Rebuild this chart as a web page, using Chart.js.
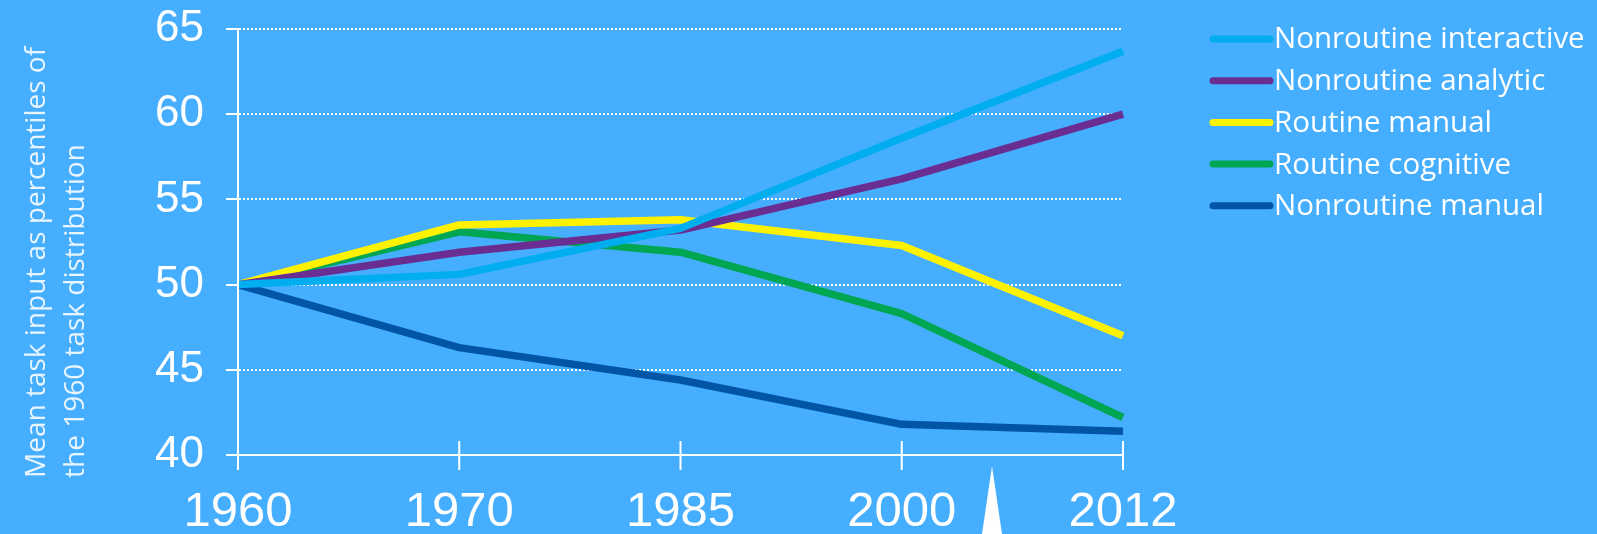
<!DOCTYPE html>
<html>
<head>
<meta charset="utf-8">
<script src="https://cdn.jsdelivr.net/npm/chart.js@4.4.1/dist/chart.umd.min.js"></script>
<style>
  html, body { margin: 0; padding: 0; background: #46aeff; }
  #wrap { width: 1597px; height: 534px; }
</style>
</head>
<body>
<div id="wrap"><canvas id="taskChart" width="1597" height="534"></canvas></div>
<script>
// data
const years = ['1960', '1970', '1985', '2000', '2012']
const nonroutineInteractive = [50, 50.6, 53.3, 58.6, 63.7]
const nonroutineAnalytic = [50, 51.9, 53.2, 56.2, 60.0]
const routineManual = [50, 53.5, 53.8, 52.3, 47.0]
const routineCognitive = [50, 53.1, 51.9, 48.3, 42.2]
const nonroutineManual = [50, 46.3, 44.4, 41.8, 41.4]
const yTicks = [40, 45, 50, 55, 60, 65]

const seriesNames = ['Nonroutine interactive', 'Nonroutine analytic', 'Routine manual', 'Routine cognitive', 'Nonroutine manual']
const seriesColors = ['#00aeef', '#6a2d91', '#fff200', '#00a651', '#0055a6']
const seriesData = [nonroutineInteractive, nonroutineAnalytic, routineManual, routineCognitive, nonroutineManual]

const yTitle = ['Mean task input as percentiles of', 'the 1960 task distribution']

// axis lines, x ticks, legend, y title, pointer
const decorations = {
    id: 'decorations',
    afterDraw(chart) {
        const ctx = chart.ctx
        const area = chart.chartArea
        const x = chart.scales.x
        ctx.save()
        ctx.strokeStyle = '#ffffff'
        ctx.lineWidth = 2
        ctx.beginPath()
        ctx.moveTo(area.left - 12, area.bottom)
        ctx.lineTo(area.right, area.bottom)
        ctx.moveTo(area.left, area.top)
        ctx.lineTo(area.left, area.bottom + 15)
        years.forEach((yr, i) => {
            const px = x.getPixelForValue(i)
            ctx.moveTo(px, area.bottom - 14)
            ctx.lineTo(px, area.bottom + 15)
        })
        ctx.stroke()

        // legend
        ctx.lineCap = 'round'
        ctx.lineWidth = 7
        ctx.font = '29.5px "Open Sans"'
        ctx.textBaseline = 'middle'
        ctx.fillStyle = '#ffffff'
        chart.data.datasets.forEach((ds, i) => {
            const ly = 39 + i * 41.7
            ctx.strokeStyle = ds.borderColor
            ctx.beginPath()
            ctx.moveTo(1213, ly)
            ctx.lineTo(1270, ly)
            ctx.stroke()
            ctx.fillText(ds.label, 1274, ly + 1)
        })

        // y title
        ctx.save()
        ctx.translate(0, 478)
        ctx.rotate(-Math.PI / 2)
        ctx.font = '28px "Open Sans"'
        ctx.fillStyle = 'rgba(255,255,255,0.88)'
        ctx.textAlign = 'left'
        ctx.fillText(yTitle[0], 0, 37)
        ctx.fillText(yTitle[1], 0, 76)
        ctx.restore()

        // white pointer
        ctx.fillStyle = '#ffffff'
        ctx.beginPath()
        ctx.moveTo(992, 466)
        ctx.lineTo(1002, 534)
        ctx.lineTo(982, 534)
        ctx.closePath()
        ctx.fill()
        ctx.restore()
    }
}

const chart = new Chart(document.getElementById('taskChart'), {
    type: 'line',
    data: {
        labels: years,
        datasets: seriesNames.map((name, i) => ({
            label: name,
            data: seriesData[i],
            borderColor: seriesColors[i],
            backgroundColor: seriesColors[i],
            borderWidth: 7.5,
            borderJoinStyle: 'round',
            pointRadius: 0,
            tension: 0
        }))
    },
    options: {
        responsive: false,
        animation: false,
        layout: { padding: { top: 29, right: 474, left: 0, bottom: 0 } },
        plugins: { legend: { display: false }, tooltip: { enabled: false } },
        scales: {
            x: {
                grid: { display: false },
                border: { display: false },
                ticks: { color: '#ffffff', font: { family: 'Arial, "Liberation Sans"', size: 49 }, padding: 20, maxRotation: 0 },
                afterFit: (s) => { s.height = 79 }
            },
            y: {
                min: 40,
                max: 65,
                afterBuildTicks: (s) => { s.ticks = yTicks.map(v => ({ value: v })) },
                grid: { color: '#ffffff', lineWidth: 2, tickLength: 12, tickColor: '#ffffff', tickWidth: 2 },
                border: { display: true, color: '#ffffff', width: 2, dash: [2, 2] },
                ticks: { color: '#ffffff', font: { family: 'Arial, "Liberation Sans"', size: 44 }, padding: 22 },
                afterFit: (s) => { s.width = 238; s.paddingTop = 0; s.paddingBottom = 0 }
            }
        }
    },
    plugins: [decorations]
})
</script>
</body>
</html>
